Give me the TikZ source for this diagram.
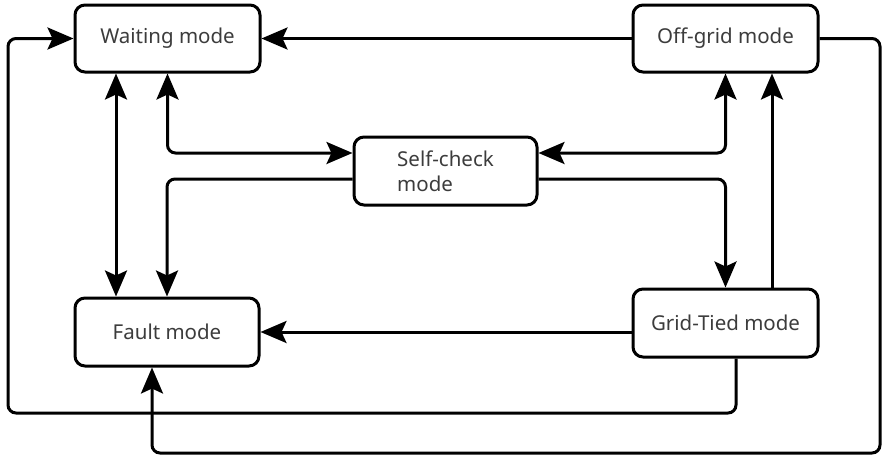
\documentclass[tikz,border=0pt]{standalone}
\usepackage{fontspec}
\setmainfont{Noto Sans}
\usetikzlibrary{arrows.meta}
\definecolor{ln}{HTML}{000000}
\definecolor{tx}{HTML}{3C3C3C}
\tikzset{
  mode/.style={draw=ln, line width=3pt, rounded corners=10pt, minimum width=185pt, minimum height=67pt, inner sep=0pt, text=tx, font=\fontsize{20.5}{25}\selectfont, align=left},
  conn/.style={draw=ln, line width=3pt, rounded corners=8pt, -{Stealth[length=26pt,width=22pt,inset=5pt]}},
  conn2/.style={draw=ln, line width=3pt, rounded corners=8pt, {Stealth[length=26pt,width=22pt,inset=5pt]}-{Stealth[length=26pt,width=22pt,inset=5pt]}}
}
\begin{document}
\begin{tikzpicture}[x=1pt,y=-1pt]
\useasboundingbox (0,0) rectangle (883,458);
\node[mode] (W) at (167.5,38.5) {Waiting mode};
\node[mode] (O) at (725.5,38.5) {Off-grid mode};
\node[mode, minimum width=183pt, minimum height=68pt] (S) at (445.5,171) {Self-check\\mode};
\node[mode, minimum width=184pt, minimum height=68pt] (F) at (167,332) {Fault mode};
\node[mode, minimum height=68pt] (G) at (725.5,323) {Grid-Tied mode};
\coordinate (bl) at (8,413);
\coordinate (br) at (880,453);
\draw[conn] (O.west) -- (W.east);
\draw[conn] ([xshift=10.5pt]G.south) |- (bl) |- (W.west);
\draw[conn] (O.east) -| (br) -| ([xshift=-15pt]F.south);
\draw[conn2] ([xshift=-51.5pt]W.south) -- ([xshift=-51.5pt]W.south |- F.north);
\draw[conn2] (W.south) |- ([yshift=18pt]S.west);
\draw[conn] ([yshift=-8pt]S.west) -| (F.north);
\draw[conn2] ([yshift=18pt]S.east) -| (O.south);
\draw[conn] ([yshift=-8pt]S.east) -| (G.north);
\draw[conn] ([xshift=46.5pt]G.north) -- ([xshift=46.5pt]O.south);
\draw[conn] ([yshift=-9pt]G.west) -- (F.east);
\end{tikzpicture}
\end{document}
